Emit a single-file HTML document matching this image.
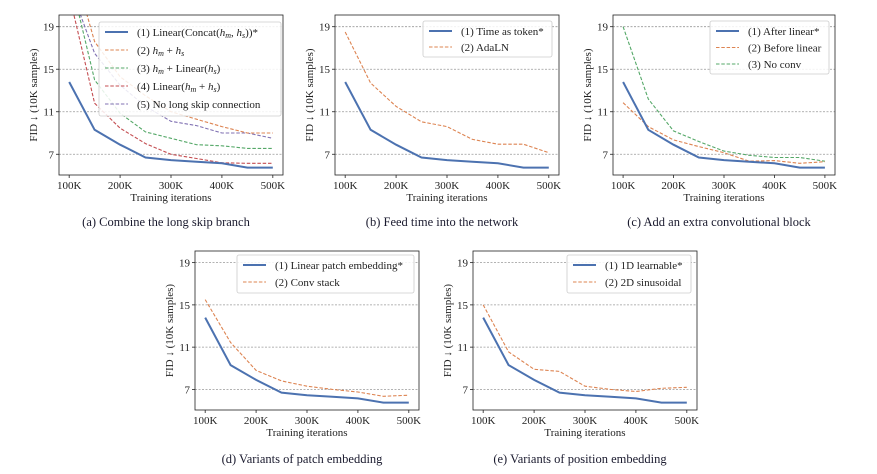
<!DOCTYPE html>
<html><head><meta charset="utf-8"><style>
body{margin:0;background:#fff}
svg{display:block;font-family:"Liberation Serif",serif}
</style></head><body>
<svg id="fig" width="877" height="474" viewBox="0 0 877 474"></svg>
<script>
const iters = [100,150,200,250,300,350,400,450,500];
const xTicks = [100,200,300,400,500];
const xTickLabels = ["100K","200K","300K","400K","500K"];
const yTicks = [7,11,15,19];
const baseline = [13.8,9.3,7.9,6.7,6.45,6.3,6.15,5.75,5.75];
const aSum = [26,17.6,14.3,12.5,11.0,10.3,9.6,9.0,9.0];
const aLinS = [24,14.0,10.85,9.1,8.5,7.9,7.8,7.55,7.55];
const aLinSum = [22,11.8,9.45,8.0,7.0,6.6,6.2,6.15,6.15];
const aNoSkip = [23,16.5,13.5,11.5,10.1,9.7,9.0,9.0,8.5];
const bAdaLN = [18.5,13.7,11.5,10.05,9.6,8.4,7.95,7.95,7.15];
const cBefore = [11.85,9.6,8.35,7.72,7.15,6.35,6.4,6.15,6.3];
const cNoConv = [19,12.2,9.2,8.2,7.3,6.9,6.7,6.7,6.35];
const dConv = [15.5,11.44,8.8,7.8,7.3,7.0,6.75,6.35,6.45];
const e2D = [15.0,10.55,8.9,8.7,7.3,7.0,6.8,7.1,7.2];

const BLUE="#4c72b0",ORANGE="#dd8452",GREEN="#55a868",RED="#c44e52",PURPLE="#8172b3";
const NS="http://www.w3.org/2000/svg";
const svg=document.getElementById('fig');
function mk(tag,attrs,parent){const e=document.createElementNS(NS,tag);for(const k in attrs)e.setAttribute(k,attrs[k]);(parent||svg).appendChild(e);return e;}
const HM="<tspan font-style='italic'>h</tspan><tspan font-size='8' font-style='italic' baseline-shift='-2'>m</tspan>";
const HS="<tspan font-style='italic'>h</tspan><tspan font-size='8' font-style='italic' baseline-shift='-2'>s</tspan>";

const panels=[
 {id:'a',x0:59,x1:283,y0:15,y1:175,cap:"(a) Combine the long skip branch",capY:226,
  series:[["(1) Linear(Concat("+HM+", "+HS+"))*",baseline,BLUE,true],
   ["(2) "+HM+" + "+HS,aSum,ORANGE,false],
   ["(3) "+HM+" + Linear("+HS+")",aLinS,GREEN,false],
   ["(4) Linear("+HM+" + "+HS+")",aLinSum,RED,false],
   ["(5) No long skip connection",aNoSkip,PURPLE,false]],
  leg:{x:99,y:22,w:182,h:94,dy:18}},
 {id:'b',x0:335,x1:559,y0:15,y1:175,cap:"(b) Feed time into the network",capY:226,
  series:[["(1) Time as token*",baseline,BLUE,true],["(2) AdaLN",bAdaLN,ORANGE,false]],
  leg:{x:423,y:21,w:129,h:36,dy:16}},
 {id:'c',x0:613,x1:835,y0:15,y1:175,cap:"(c) Add an extra convolutional block",capY:226,
  series:[["(1) After linear*",baseline,BLUE,true],["(2) Before linear",cBefore,ORANGE,false],["(3) No conv",cNoConv,GREEN,false]],
  leg:{x:710,y:21,w:119,h:53,dy:16.5}},
 {id:'d',x0:195,x1:419,y0:251,y1:410,cap:"(d) Variants of patch embedding",capY:463,
  series:[["(1) Linear patch embedding*",baseline,BLUE,true],["(2) Conv stack",dConv,ORANGE,false]],
  leg:{x:237,y:255,w:177,h:38,dy:17}},
 {id:'e',x0:473,x1:697,y0:251,y1:410,cap:"(e) Variants of position embedding",capY:463,
  series:[["(1) 1D learnable*",baseline,BLUE,true],["(2) 2D sinusoidal",e2D,ORANGE,false]],
  leg:{x:567,y:255,w:124,h:38,dy:17}}
];

panels.forEach(p=>{
  const g=mk('g',{});
  
  
  const xs=v=>p.x0+(v-80)/(440)*(p.x1-p.x0);
  const ymin=5.05,ymax=20.1;
  const ys=v=>p.y1-(v-ymin)/(ymax-ymin)*(p.y1-p.y0);
  yTicks.forEach(t=>{
    const l=mk('line',{x1:p.x0,x2:p.x1,y1:ys(t),y2:ys(t),stroke:'#999','stroke-width':0.8,'stroke-dasharray':'2,1.5'},g);
    
    
    mk('line',{x1:p.x0-3,x2:p.x0,y1:ys(t),y2:ys(t),stroke:'#222','stroke-width':0.8},g);
    const tx=mk('text',{x:p.x0-5,y:ys(t)+4,'text-anchor':'end','font-size':11,fill:'#222'},g);
    tx.textContent=t;
    
    
  });
  xTicks.forEach((t,i)=>{
    mk('line',{x1:xs(t),x2:xs(t),y1:p.y1,y2:p.y1+3,stroke:'#222','stroke-width':0.8},g);
    const tx=mk('text',{x:xs(t),y:p.y1+14,'text-anchor':'middle','font-size':11,fill:'#222'},g);
    tx.textContent=xTickLabels[i];
    
    
  });
  const cp=mk('clipPath',{id:'clip'+p.id},g);
  mk('rect',{x:p.x0,y:p.y0,width:p.x1-p.x0,height:p.y1-p.y0},cp);
  const lines=mk('g',{'clip-path':'url(#clip'+p.id+')'},g);
  p.series.slice().reverse().forEach(s=>{
    const pts=s[1].map((v,i)=>xs(iters[i]).toFixed(1)+','+ys(v).toFixed(1)).join(' ');
    const pl=mk('polyline',{points:pts,fill:'none',stroke:s[2],'stroke-width':s[3]?2:1.1,'stroke-dasharray':s[3]?'none':'3.5,1.8'},lines);
    
    
  });
  const fr=mk('rect',{x:p.x0,y:p.y0,width:p.x1-p.x0,height:p.y1-p.y0,fill:'none',stroke:'#222','stroke-width':0.8},g);
  
  
  const xl=mk('text',{x:(p.x0+p.x1)/2,y:p.y1+26,'text-anchor':'middle','font-size':11,fill:'#222'},g);
  xl.textContent='Training iterations';
  
  
  const cy=(p.y0+p.y1)/2;
  const yl=mk('text',{x:p.x0-22,y:cy,'text-anchor':'middle','font-size':11,fill:'#222',transform:'rotate(-90 '+(p.x0-22)+' '+cy+')'},g);
  yl.textContent='FID \u2193 (10K samples)';
  
  
  const L=p.leg;
  const lg=mk('g',{},g);
  
  
  mk('rect',{x:L.x,y:L.y,width:L.w,height:L.h,rx:2,fill:'#fff','fill-opacity':0.85,stroke:'#ccc','stroke-width':0.8},lg);
  p.series.forEach((s,i)=>{
    const yy=L.y+10+i*L.dy;
    mk('line',{x1:L.x+6,x2:L.x+29,y1:yy,y2:yy,stroke:s[2],'stroke-width':s[3]?2:1.1,'stroke-dasharray':s[3]?'none':'3.5,1.8'},lg);
    const t=mk('text',{x:L.x+38,y:yy+4,'font-size':11,fill:'#222'},lg);
    t.innerHTML=s[0];
    
    
  });
  const cap=mk('text',{x:(p.x0+p.x1)/2-5,y:p.capY,'text-anchor':'middle','font-size':12.5,fill:'#1a1a2e'},g);
  cap.textContent=p.cap;
  
  
});
</script>
</body></html>
